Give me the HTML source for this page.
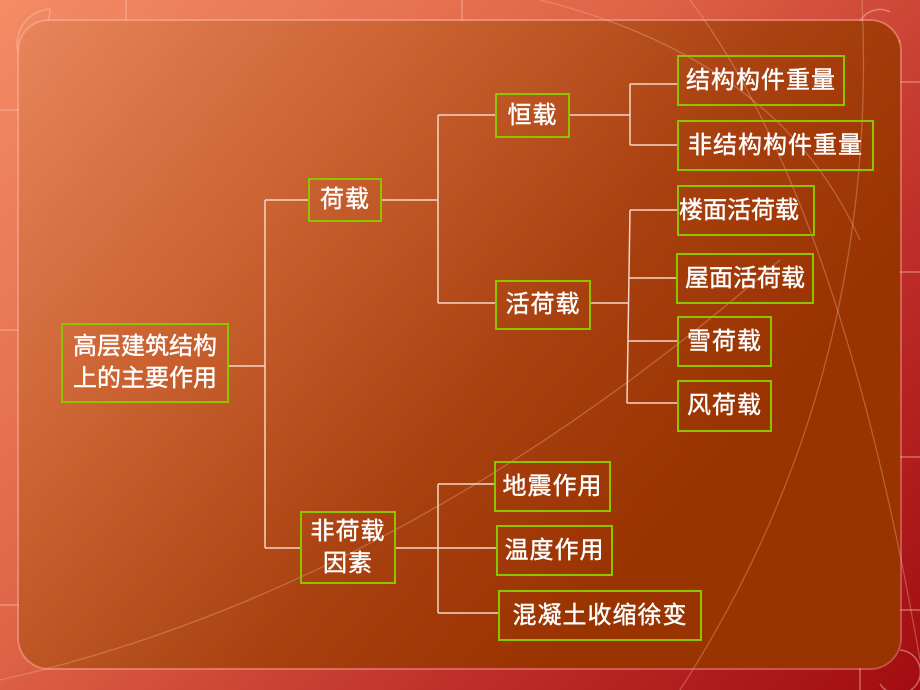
<!DOCTYPE html>
<html><head><meta charset="utf-8">
<style>
html,body{margin:0;padding:0}
body{width:920px;height:690px;position:relative;overflow:hidden;
background:linear-gradient(135deg,#f48c66 0%,#de6447 40%,#c0302a 70%,#a20c10 100%);
font-family:"Liberation Sans","Noto Sans CJK SC",sans-serif;}
.panel{position:absolute;left:19px;top:21px;width:881px;height:647px;border-radius:30px;
background:linear-gradient(130deg,#e8855b 0%,#c9602f 30%,#a8400f 55%,#993300 75%,#993300 100%);
box-shadow:0 0 0 2px rgba(255,200,180,0.35);}
.b{position:absolute;box-sizing:border-box;border:2px solid #8cc400;color:#fff;font-size:24px;font-weight:normal;-webkit-text-stroke:0.4px #fff;
display:flex;align-items:center;justify-content:center;text-align:center;line-height:32px;letter-spacing:1px;white-space:nowrap}
svg{position:absolute;left:0;top:0}
</style></head><body>
<svg width="920" height="690" style="z-index:0">
<g stroke="#f6c0a8" stroke-opacity="0.5" fill="none" stroke-width="1.5">
<path d="M126 0 V21 M0 110 H19 M900 82 H920 M900 272 H920 M900 457 H920 M900 610 H920 M860 668 V690 M462 0 V21 M0 330 H19 M0 605 H19"/>
<path d="M18 52 A35 35 0 0 1 50 9 A40 40 0 0 1 48 21"/>
<path d="M900 40 A22 22 0 1 1 890 12"/>
<path d="M900 650 A22 22 0 1 1 880 684"/>
</g>
</svg>
<div class="panel"></div>
<svg width="920" height="690" style="z-index:1">
<g stroke="#f0b8a0" stroke-opacity="0.35" fill="none" stroke-width="1.3">
<path d="M690 0 Q840 200 920 660"/>
<path d="M862 0 Q880 380 680 690"/>
<path d="M540 0 Q780 60 860 240"/>
<path d="M0 680 Q400 590 780 260"/>
</g>
<g stroke="#f3d6c8" stroke-width="1.5" fill="none">
<path d="M229 366 H265 M265 200 V548 M265 200 H308 M265 548 H300"/>
<path d="M381 200 H438 M438 115 V303 M438 115 H495 M438 303 H495"/>
<path d="M569 115 H630 M630 84 V145 M630 84 H677 M630 145 H677"/>
<path d="M590 303 H628 M630 210 L627 403 M630 210 H677 M629 278 H677 M628 341 H677 M627 403 H677"/>
<path d="M395 548 H496 M438 484 V613 M438 484 H494 M438 613 H498"/>
</g>
</svg>
<div style="position:absolute;left:0;top:0;z-index:2">
<div class="b" style="left:61px;top:323px;width:168px;height:80px;letter-spacing:0">高层建筑结构<br>上的主要作用</div>
<div class="b" style="left:308px;top:178px;width:74px;height:44px">荷载</div>
<div class="b" style="left:300px;top:511px;width:96px;height:73px">非荷载<br>因素</div>
<div class="b" style="left:495px;top:93px;width:75px;height:45px">恒载</div>
<div class="b" style="left:495px;top:280px;width:96px;height:50px">活荷载</div>
<div class="b" style="left:677px;top:55px;width:168px;height:51px">结构构件重量</div>
<div class="b" style="left:677px;top:120px;width:197px;height:51px">非结构构件重量</div>
<div class="b" style="left:677px;top:185px;width:138px;height:51px;justify-content:flex-start;padding-left:0;letter-spacing:0">楼面活荷载</div>
<div class="b" style="left:676px;top:253px;width:138px;height:51px;letter-spacing:0">屋面活荷载</div>
<div class="b" style="left:677px;top:316px;width:95px;height:51px">雪荷载</div>
<div class="b" style="left:677px;top:380px;width:95px;height:52px">风荷载</div>
<div class="b" style="left:494px;top:461px;width:117px;height:51px">地震作用</div>
<div class="b" style="left:496px;top:525px;width:117px;height:51px">温度作用</div>
<div class="b" style="left:498px;top:590px;width:204px;height:51px">混凝土收缩徐变</div>
</div>
</body></html>
